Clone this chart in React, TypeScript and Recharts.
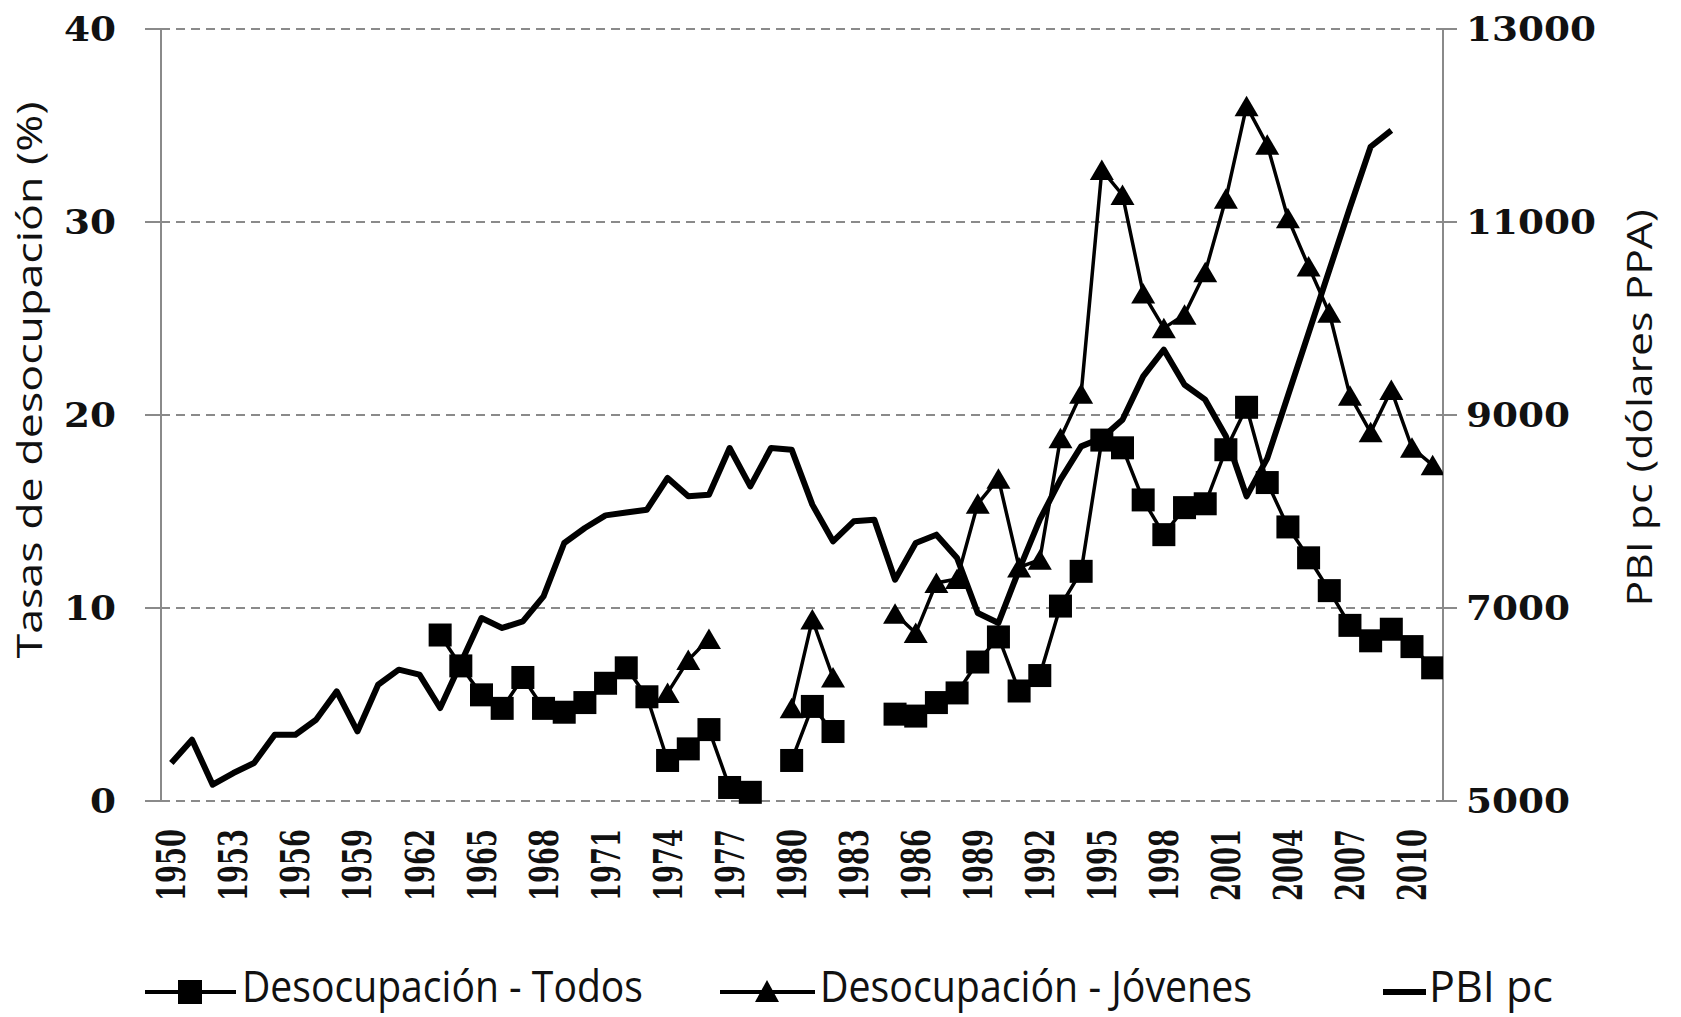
import React from "react";
import { LineChart, Line, XAxis, YAxis, CartesianGrid } from "recharts";

const years = [
  1950, 1951, 1952, 1953, 1954, 1955, 1956, 1957, 1958, 1959,
  1960, 1961, 1962, 1963, 1964, 1965, 1966, 1967, 1968, 1969,
  1970, 1971, 1972, 1973, 1974, 1975, 1976, 1977, 1978, 1979,
  1980, 1981, 1982, 1983, 1984, 1985, 1986, 1987, 1988, 1989,
  1990, 1991, 1992, 1993, 1994, 1995, 1996, 1997, 1998, 1999,
  2000, 2001, 2002, 2003, 2004, 2005, 2006, 2007, 2008, 2009,
  2010, 2011,
];

// Desocupación - Todos (%)
const todos = [
  null, null, null, null, null, null, null, null, null, null,
  null, null, null, 8.6, 7.0, 5.5, 4.8, 6.4, 4.8, 4.6,
  5.1, 6.1, 6.9, 5.4, 2.1, 2.7, 3.7, 0.7, 0.45, null,
  2.1, 4.9, 3.6, null, null, 4.5, 4.4, 5.1, 5.6, 7.2,
  8.5, 5.7, 6.5, 10.1, 11.9, 18.7, 18.3, 15.6, 13.8, 15.2,
  15.4, 18.2, 20.4, 16.5, 14.2, 12.6, 10.9, 9.1, 8.3, 8.9,
  8.0, 6.9,
];

// Desocupación - Jóvenes (%)
const jovenes = [
  null, null, null, null, null, null, null, null, null, null,
  null, null, null, null, null, null, null, null, null, null,
  null, null, null, null, 5.6, 7.3, 8.4, null, null, null,
  4.8, 9.4, 6.4, null, null, 9.7, 8.7, 11.3, 11.5, 15.4,
  16.7, 12.1, 12.5, 18.8, 21.1, 32.7, 31.4, 26.3, 24.5, 25.2,
  27.4, 31.2, 36.0, 34.0, 30.2, 27.7, 25.3, 21.0, 19.1, 21.3,
  18.3, 17.4,
];

// PBI pc (dólares PPA)
const pbi = [
  5394, 5635, 5169, 5290, 5394, 5687, 5687, 5842, 6136, 5721,
  6205, 6361, 6309, 5964, 6430, 6896, 6793, 6861, 7120, 7674,
  7829, 7960, 7990, 8019, 8347, 8157, 8174, 8658, 8261, 8658,
  8641, 8071, 7691, 7898, 7915, 7293, 7674, 7760, 7518, 6948,
  6845, 7397, 7915, 8330, 8675, 8762, 8951, 9400, 9677, 9314,
  9159, 8779, 8157, 8550, 9200, 9850, 10500, 11150, 11780, 11950,
  null, null,
];

const leftTicks = [0, 10, 20, 30, 40];
const rightTicks = [5000, 7000, 9000, 11000, 13000];
const yearLabels = [
  1950, 1953, 1956, 1959, 1962, 1965, 1968, 1971, 1974, 1977, 1980,
  1983, 1986, 1989, 1992, 1995, 1998, 2001, 2004, 2007, 2010,
];
// category boundaries for the x tick marks
const yearBounds = [...years.map((y) => y - 0.5), 2011.5];

const data = years.map((year, i) => ({
  year,
  todos: todos[i],
  jovenes: jovenes[i],
  pbi: pbi[i],
}));

const AXIS = "#8a8a8a";
const TICK_FONT = "'DejaVu Serif', serif";
const TEXT_FONT = "'Open Sans', 'Noto Sans', sans-serif";

// eslint-disable-next-line @typescript-eslint/no-explicit-any
const YTick = (props: any) => {
  const { x, y, payload, anchor } = props;
  const s = String(payload.value);
  return (
    <text
      x={x}
      y={y}
      dy="0.36em"
      textAnchor={anchor}
      fontFamily={TICK_FONT}
      fontWeight="bold"
      fontSize={33}
      fill="#111"
      textLength={s.length * 26}
      lengthAdjust="spacingAndGlyphs"
    >
      {s}
    </text>
  );
};

// eslint-disable-next-line @typescript-eslint/no-explicit-any
const YearTick = (props: any) => {
  const { x, y, payload } = props;
  return (
    <text
      transform={`translate(${x},${y}) rotate(-90)`}
      dy="0.36em"
      textAnchor="end"
      fontFamily={TICK_FONT}
      fontWeight="bold"
      fontSize={39}
      fill="#111"
      textLength={72}
      lengthAdjust="spacingAndGlyphs"
    >
      {payload.value}
    </text>
  );
};

// eslint-disable-next-line @typescript-eslint/no-explicit-any
const SquareDot = (props: any) => {
  const { cx, cy, value, index } = props;
  if (value === null || value === undefined || cx == null || cy == null) return <g key={`s${index}`} />;
  return <rect key={`s${index}`} x={cx - 11.5} y={cy - 11.5} width={23} height={23} fill="#000" />;
};

// eslint-disable-next-line @typescript-eslint/no-explicit-any
const TriangleDot = (props: any) => {
  const { cx, cy, value, index } = props;
  if (value === null || value === undefined || cx == null || cy == null) return <g key={`t${index}`} />;
  return (
    <path
      key={`t${index}`}
      d={`M${cx},${cy - 10.5} L${cx + 12},${cy + 10} L${cx - 12},${cy + 10} Z`}
      fill="#000"
    />
  );
};

function Overlay() {
  return (
    <svg
      width={1681}
      height={1017}
      style={{ position: "absolute", left: 0, top: 0, pointerEvents: "none" }}
    >
      {/* axis titles */}
      <text
        transform="translate(30,380) rotate(-90)"
        dy="0.35em"
        textAnchor="middle"
        fontFamily={TEXT_FONT}
        fontSize={35}
        fill="#111"
        textLength={557}
        lengthAdjust="spacingAndGlyphs"
      >
        Tasas de desocupación (%)
      </text>
      <text
        transform="translate(1640,408) rotate(-90)"
        dy="0.35em"
        textAnchor="middle"
        fontFamily={TEXT_FONT}
        fontSize={35}
        fill="#111"
        textLength={397}
        lengthAdjust="spacingAndGlyphs"
      >
        PBI pc (dólares PPA)
      </text>

      {/* legend */}
      <line x1={145} x2={236} y1={992} y2={992} stroke="#000" strokeWidth={4} />
      <rect x={178} y={980} width={24} height={24} fill="#000" />
      <text x={242} y={1002} fontFamily={TEXT_FONT} fontSize={43} fill="#111" textLength={401} lengthAdjust="spacingAndGlyphs">
        Desocupación - Todos
      </text>

      <line x1={720} x2={815} y1={992} y2={992} stroke="#000" strokeWidth={4} />
      <path d="M767,980 L779,1002 L755,1002 Z" fill="#000" />
      <text x={820} y={1002} fontFamily={TEXT_FONT} fontSize={43} fill="#111" textLength={432} lengthAdjust="spacingAndGlyphs">
        Desocupación - Jóvenes
      </text>

      <line x1={1383} x2={1426} y1={992} y2={992} stroke="#000" strokeWidth={6} />
      <text x={1429} y={1002} fontFamily={TEXT_FONT} fontSize={43} fill="#111" textLength={124} lengthAdjust="spacingAndGlyphs">
        PBI pc
      </text>
    </svg>
  );
}

export default function App() {
  return (
    <div style={{ position: "absolute", left: 0, top: 0, width: 1681, height: 1017, background: "#fff" }}>
      <LineChart
        width={1681}
        height={1017}
        data={data}
        margin={{ top: 29, right: 0, bottom: 96, left: 0 }}
      >
        <CartesianGrid
          vertical={false}
          yAxisId="left"
          xAxisId="main"
          stroke={AXIS}
          strokeWidth={2}
          strokeDasharray="9 6"
        />
        <XAxis
          xAxisId="main"
          dataKey="year"
          type="number"
          domain={[1949.5, 2011.5]}
          allowDataOverflow
          ticks={yearBounds}
          interval={0}
          tick={false}
          tickSize={15}
          height={0}
          axisLine={{ stroke: AXIS, strokeWidth: 2 }}
          tickLine={{ stroke: AXIS, strokeWidth: 2 }}
        />
        <XAxis
          xAxisId="labels"
          dataKey="year"
          type="number"
          domain={[1949.5, 2011.5]}
          allowDataOverflow
          ticks={yearLabels}
          interval={0}
          tick={<YearTick />}
          tickSize={0}
          tickMargin={28}
          height={120}
          axisLine={false}
          tickLine={false}
        />
        <YAxis
          yAxisId="left"
          orientation="left"
          width={161}
          domain={[0, 40]}
          ticks={leftTicks}
          interval={0}
          tickSize={16}
          tickMargin={29}
          tick={<YTick anchor="end" />}
          axisLine={{ stroke: AXIS, strokeWidth: 2 }}
          tickLine={{ stroke: AXIS, strokeWidth: 2 }}
        />
        <YAxis
          yAxisId="right"
          orientation="right"
          width={238}
          domain={[5000, 13000]}
          ticks={rightTicks}
          interval={0}
          tickSize={14}
          tickMargin={9}
          tick={<YTick anchor="start" />}
          axisLine={{ stroke: AXIS, strokeWidth: 2 }}
          tickLine={{ stroke: AXIS, strokeWidth: 2 }}
        />
        <Line
          xAxisId="main"
          yAxisId="right"
          dataKey="pbi"
          name="PBI pc"
          type="linear"
          stroke="#000"
          strokeWidth={6}
          strokeLinejoin="round"
          dot={false}
          activeDot={false}
          connectNulls={false}
          isAnimationActive={false}
        />
        <Line
          xAxisId="main"
          yAxisId="left"
          dataKey="todos"
          name="Desocupación - Todos"
          type="linear"
          stroke="#000"
          strokeWidth={3.5}
          dot={<SquareDot />}
          activeDot={false}
          connectNulls={false}
          isAnimationActive={false}
        />
        <Line
          xAxisId="main"
          yAxisId="left"
          dataKey="jovenes"
          name="Desocupación - Jóvenes"
          type="linear"
          stroke="#000"
          strokeWidth={3.5}
          dot={<TriangleDot />}
          activeDot={false}
          connectNulls={false}
          isAnimationActive={false}
        />
      </LineChart>
      <Overlay />
    </div>
  );
}
